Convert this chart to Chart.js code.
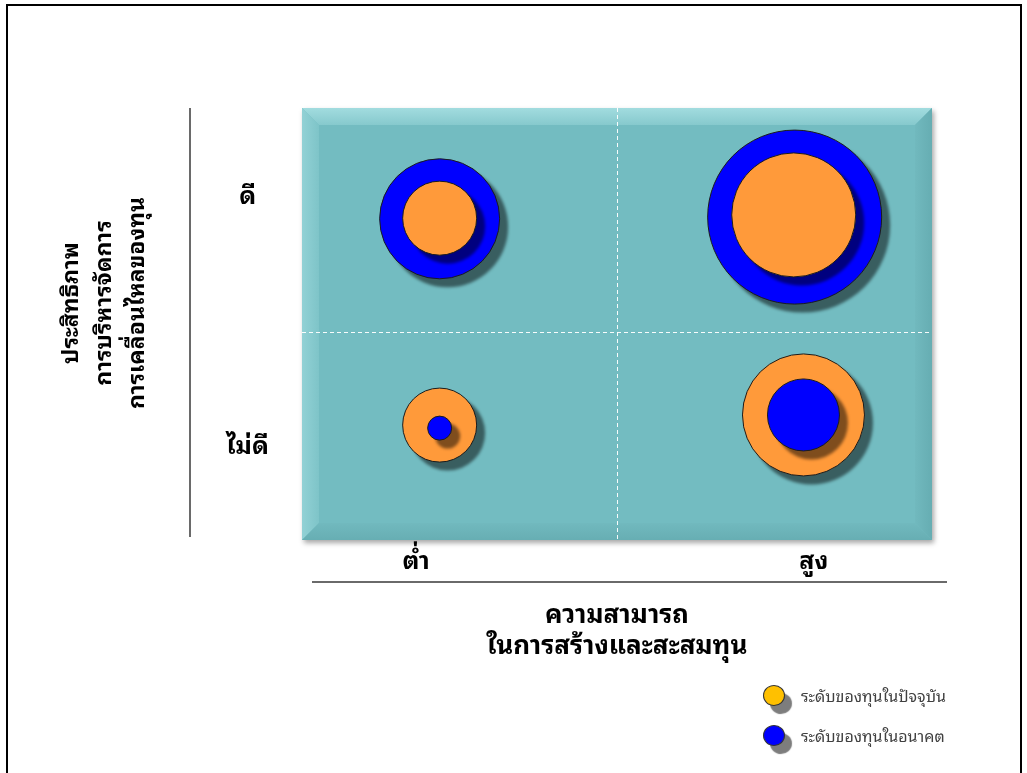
<!DOCTYPE html>
<html>
<head>
<meta charset="utf-8">
<script src="https://cdn.jsdelivr.net/npm/chart.js@4.4.0/dist/chart.umd.min.js"></script>
<style>
html,body{margin:0;padding:0;background:#fff;overflow:hidden;}
#wrap{position:relative;width:1027px;height:773px;}
#frame{position:absolute;left:6px;top:4px;width:1016px;height:820px;border:2px solid #000;box-sizing:border-box;pointer-events:none;}
#c{position:absolute;left:0;top:0;}
.lg{position:absolute;left:763px;height:22px;display:flex;align-items:center;font-family:"Noto Sans Thai Looped",Tahoma,"Noto Sans Thai","Noto Sans","DejaVu Sans",sans-serif;font-size:16px;color:#404040;white-space:nowrap;}
.lg .mk{width:22px;height:21px;border-radius:50%;border:1px solid #333;box-sizing:border-box;box-shadow:7px 8px 1px #7d7d7d;margin-right:16px;flex:none;}
</style>
</head>
<body>
<div id="wrap">
<canvas id="c" width="1027" height="773"></canvas>
<div id="frame"></div>
<div id="legend"></div>
</div>
<script>
// ---- data ----
const quadrants = ['ต่ำ-ดี', 'สูง-ดี', 'ต่ำ-ไม่ดี', 'สูง-ไม่ดี'];
const seriesNames = ['ระดับของทุนในปัจจุบัน', 'ระดับของทุนในอนาคต'];
const currentX = [0.437, 1.561, 0.437, 1.592];
const currentY = [1.49, 1.505, 0.532, 0.579];
const currentR = [37, 62, 37, 61];
const futureX = [0.437, 1.564, 0.437, 1.592];
const futureY = [1.487, 1.495, 0.518, 0.579];
const futureR = [60, 87, 12, 36];
const xTickValues = [0.362, 1.625];
const xTickLabels = ['ต่ำ', 'สูง'];
const yTickValues = [0.43, 1.59];
const yTickLabels = ['ไม่ดี', 'ดี'];
const xDivider = 1;
const yDivider = 0.96;
const xTitle = ['ความสามารถ', 'ในการสร้างและสะสมทุน'];
const yTitle = ['ประสิทธิภาพ', 'การบริหารจัดการ', 'การเคลื่อนไหลของทุน'];
const seriesColors = ['#FF9A3A', '#0000FF'];
const legendColors = ['#FFC000', '#0000FF'];

const FONT = '"Noto Sans Thai Looped", Tahoma, "Noto Sans Thai", "Noto Sans", "DejaVu Sans", sans-serif';
Chart.defaults.font.family = FONT;
Chart.defaults.color = '#000';

const series = [
  {name: seriesNames[0], x: currentX, y: currentY, r: currentR, color: seriesColors[0]},
  {name: seriesNames[1], x: futureX, y: futureY, r: futureR, color: seriesColors[1]}
];
const datasets = [];
series.forEach((s, si) => {
  const other = series[1 - si];
  const outer = [], inner = [];
  s.x.forEach((v, i) => {
    const pt = {x: v, y: s.y[i], r: s.r[i], q: quadrants[i]};
    (s.r[i] >= other.r[i] ? outer : inner).push(pt);
  });
  const base = {label: s.name, backgroundColor: s.color, borderColor: '#1c1c1c', borderWidth: 1, hoverRadius: 0, hoverBorderWidth: 1};
  datasets.push(Object.assign({}, base, {data: outer, order: 2}));
  datasets.push(Object.assign({}, base, {data: inner, order: 1}));
});

// ---- plugins ----
const panelPlugin = {
  id: 'panel',
  beforeDraw(chart) {
    const {ctx, chartArea: a} = chart;
    const L = a.left, T = a.top, R = a.right, B = a.bottom, b = 17;
    ctx.save();
    ctx.shadowColor = 'rgba(0,0,0,0.35)';
    ctx.shadowBlur = 5; ctx.shadowOffsetX = 2; ctx.shadowOffsetY = 3;
    ctx.fillStyle = '#73BCC1';
    ctx.fillRect(L, T, R - L, B - T);
    ctx.restore();
    ctx.save();
    const poly = (pts, fill) => {
      ctx.beginPath(); ctx.moveTo(pts[0][0], pts[0][1]);
      for (let i = 1; i < pts.length; i++) ctx.lineTo(pts[i][0], pts[i][1]);
      ctx.closePath(); ctx.fillStyle = fill; ctx.fill();
    };
    let g = ctx.createLinearGradient(0, T, 0, T + b);
    g.addColorStop(0, '#A2DCDF'); g.addColorStop(1, '#86C9CD');
    poly([[L, T], [R, T], [R - b, T + b], [L + b, T + b]], g);
    g = ctx.createLinearGradient(L, 0, L + b, 0);
    g.addColorStop(0, '#92D1D5'); g.addColorStop(1, '#7EC4C8');
    poly([[L, T], [L + b, T + b], [L + b, B - b], [L, B]], g);
    g = ctx.createLinearGradient(0, B - b, 0, B);
    g.addColorStop(0, '#71B9BE'); g.addColorStop(1, '#67AEB3');
    poly([[L, B], [L + b, B - b], [R - b, B - b], [R, B]], g);
    g = ctx.createLinearGradient(R - b, 0, R, 0);
    g.addColorStop(0, '#71B9BE'); g.addColorStop(1, '#66ADB2');
    poly([[R, T], [R, B], [R - b, B - b], [R - b, T + b]], g);
    ctx.restore();
  },
  afterDraw(chart) {
    const {ctx, chartArea: a} = chart;
    ctx.save();
    ctx.strokeStyle = '#3a3a3a';
    ctx.lineWidth = 1.5;
    ctx.beginPath();
    ctx.moveTo(a.left - 112, a.top);
    ctx.lineTo(a.left - 112, a.bottom - 3);
    ctx.moveTo(a.left + 10, a.bottom + 42);
    ctx.lineTo(a.right + 15, a.bottom + 42);
    ctx.stroke();
    // y title (rotated, multi-line)
    ctx.fillStyle = '#000';
    ctx.font = 'bold 23px ' + FONT;
    ctx.textAlign = 'center';
    ctx.textBaseline = 'middle';
    const cy = 303;
    yTitle.forEach((t, i) => {
      ctx.save();
      ctx.translate(72 + i * 33, cy);
      ctx.rotate(-Math.PI / 2);
      ctx.fillText(t, 0, 0);
      ctx.restore();
    });
    ctx.restore();
  }
};

// drop shadows behind each bubble (fill only), drawn just before its dataset
const shadowPlugin = {
  id: 'bubbleShadow',
  beforeDatasetDraw(chart, args) {
    const c = chart.ctx;
    c.save();
    c.fillStyle = 'rgba(0,0,0,0.5)';
    c.filter = 'blur(1.5px)';
    args.meta.data.forEach(el => {
      const r = el.options.radius + el.options.borderWidth / 2;
      c.beginPath();
      c.arc(el.x + 8, el.y + 8, r, 0, Math.PI * 2);
      c.fill();
    });
    c.restore();
  }
};

const gridColor = (div) => (ctx) => (ctx.tick && Math.abs(ctx.tick.value - div) < 1e-9) ? 'rgba(255,255,255,0.95)' : 'rgba(0,0,0,0)';

new Chart(document.getElementById('c'), {
  type: 'bubble',
  data: {datasets},
  plugins: [panelPlugin, shadowPlugin],
  options: {
    responsive: false,
    animation: false,
    events: [],
    layout: {padding: {left: 0, right: 95, top: 108, bottom: 100}},
    plugins: {legend: {display: false}, tooltip: {enabled: false}},
    scales: {
      x: {
        type: 'linear', min: 0, max: 2,
        afterBuildTicks: (s) => { s.ticks = [...xTickValues, xDivider].map(v => ({value: v})); },
        afterFit: (s) => { s.height = 133; },
        ticks: {
          autoSkip: false, maxRotation: 0, padding: 7,
          font: {size: 25, weight: 'bold', lineHeight: 1.2},
          callback: (v) => { const i = xTickValues.indexOf(v); return i >= 0 ? xTickLabels[i] : ''; }
        },
        grid: {drawTicks: false, color: gridColor(xDivider), lineWidth: 1},
        border: {display: false, dash: [4, 3]},
        title: {display: true, text: xTitle, font: {size: 26, weight: 'bold', lineHeight: 1.2}, padding: {top: 0, bottom: 11}, color: '#000'}
      },
      y: {
        type: 'linear', min: 0, max: 2,
        afterBuildTicks: (s) => { s.ticks = [...yTickValues, yDivider].map(v => ({value: v})); },
        afterFit: (s) => { s.width = 302; },
        ticks: {
          autoSkip: false, padding: 33, crossAlign: 'center',
          font: {size: 25, weight: 'bold', lineHeight: 1.2},
          callback: (v) => { const i = yTickValues.indexOf(v); return i >= 0 ? yTickLabels[i] : ''; }
        },
        grid: {drawTicks: false, color: gridColor(yDivider), lineWidth: 1},
        border: {display: false, dash: [4, 3]},
        title: {display: false}
      }
    }
  }
});

// ---- legend (from series names / colours) ----
const lg = document.getElementById('legend');
seriesNames.forEach((n, i) => {
  const d = document.createElement('div');
  d.className = 'lg';
  d.style.top = (684 + i * 40) + 'px';
  const m = document.createElement('span');
  m.className = 'mk';
  m.style.background = legendColors[i];
  const t = document.createElement('span');
  t.textContent = n;
  d.appendChild(m); d.appendChild(t);
  lg.appendChild(d);
});
</script>
</body>
</html>
